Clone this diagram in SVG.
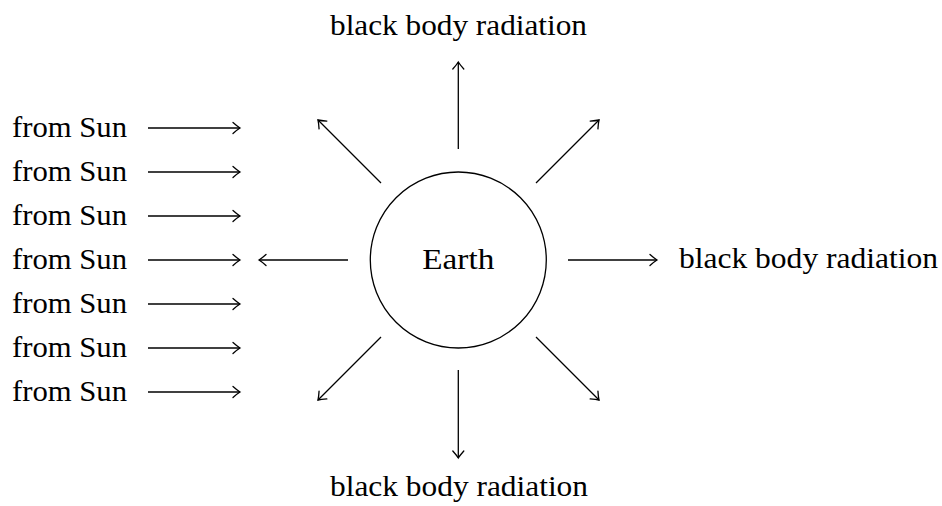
<svg xmlns="http://www.w3.org/2000/svg" width="942" height="506" viewBox="0 0 942 506">
<style>
text { font-family: "Liberation Serif", "DejaVu Serif", serif; font-size: 30px; fill: #000; }
.c { stroke: #000; stroke-width: 1.3; fill: none; marker-end: url(#to); }
</style>
<defs>
<marker id="to" markerUnits="userSpaceOnUse" markerWidth="16" markerHeight="16" viewBox="-10 -8 12 16" refX="0" refY="0" orient="auto" overflow="visible">
<path d="M -7,-5.5 Q -2.5,-1.5 0,0 Q -2.5,1.5 -7,5.5" fill="none" stroke="#000" stroke-width="1.3" stroke-linecap="round"/>
</marker>
</defs>
<rect width="942" height="506" fill="#fff"/>
<g id="earth">
<circle cx="458.3" cy="260" r="88" fill="none" stroke="#000" stroke-width="1.3"/>
<text x="458.3" y="269" text-anchor="middle" textLength="72" lengthAdjust="spacingAndGlyphs">Earth</text>
</g>
<g id="sun-labels">
<text x="12" y="137" textLength="115" lengthAdjust="spacingAndGlyphs">from Sun</text>
<text x="12" y="181" textLength="115" lengthAdjust="spacingAndGlyphs">from Sun</text>
<text x="12" y="225" textLength="115" lengthAdjust="spacingAndGlyphs">from Sun</text>
<text x="12" y="269" textLength="115" lengthAdjust="spacingAndGlyphs">from Sun</text>
<text x="12" y="313" textLength="115" lengthAdjust="spacingAndGlyphs">from Sun</text>
<text x="12" y="357" textLength="115" lengthAdjust="spacingAndGlyphs">from Sun</text>
<text x="12" y="401" textLength="115" lengthAdjust="spacingAndGlyphs">from Sun</text>
</g>
<g id="radiation-top"><text x="330" y="35" textLength="257" lengthAdjust="spacingAndGlyphs">black body radiation</text></g>
<g id="radiation-right"><text x="679" y="268" textLength="259" lengthAdjust="spacingAndGlyphs">black body radiation</text></g>
<g id="radiation-bottom"><text x="330" y="496" textLength="258" lengthAdjust="spacingAndGlyphs">black body radiation</text></g>
<g id="connectors">
<line class="c" x1="148" y1="128" x2="240" y2="128"/>
<line class="c" x1="148" y1="172" x2="240" y2="172"/>
<line class="c" x1="148" y1="216" x2="240" y2="216"/>
<line class="c" x1="148" y1="260" x2="240" y2="260"/>
<line class="c" x1="148" y1="304" x2="240" y2="304"/>
<line class="c" x1="148" y1="348" x2="240" y2="348"/>
<line class="c" x1="148" y1="392" x2="240" y2="392"/>
<line class="c" x1="348" y1="260" x2="259" y2="260"/>
<line class="c" x1="568" y1="260" x2="657" y2="260"/>
<line class="c" x1="458.3" y1="149" x2="458.3" y2="62"/>
<line class="c" x1="458.3" y1="370" x2="458.3" y2="458"/>
<line class="c" x1="381" y1="183" x2="318" y2="120"/>
<line class="c" x1="536" y1="183" x2="599" y2="120"/>
<line class="c" x1="381" y1="337" x2="318" y2="400"/>
<line class="c" x1="536" y1="337" x2="599" y2="400"/>
</g>
</svg>
